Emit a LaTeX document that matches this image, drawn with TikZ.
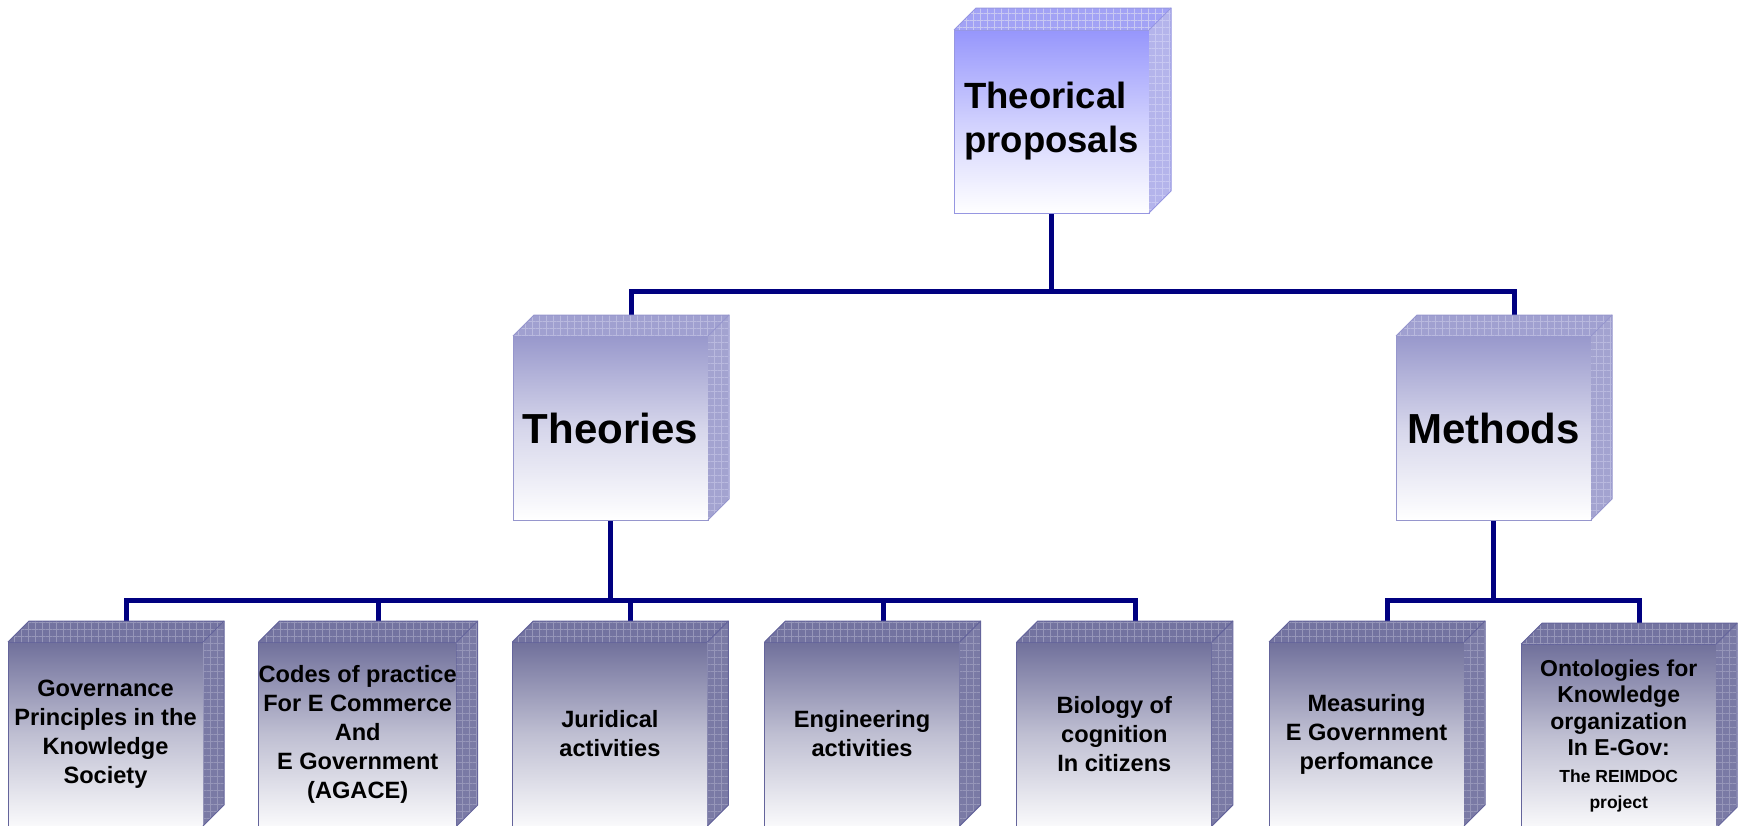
\documentclass[tikz,border=0pt]{standalone}
\usepackage{fontspec}
\usepackage{graphicx}
\setmainfont{Liberation Sans}
\usetikzlibrary{patterns.meta,calc}
\pgfdeclarelayer{bg}
\pgfsetlayers{bg,main}

\definecolor{navy}{RGB}{0,0,128}
% level A (root)
\definecolor{frontA}{RGB}{150,150,252}
\definecolor{topA}{RGB}{162,162,245}
\definecolor{sideA}{RGB}{180,180,235}
\definecolor{gridA}{RGB}{200,200,242}
\definecolor{borderA}{RGB}{150,150,225}
% level B
\definecolor{frontB}{RGB}{152,152,204}
\definecolor{topB}{RGB}{160,160,208}
\definecolor{sideB}{RGB}{163,163,208}
\definecolor{gridB}{RGB}{185,185,222}
\definecolor{borderB}{RGB}{150,150,205}
% level C
\definecolor{frontC}{RGB}{112,112,155}
\definecolor{topC}{RGB}{115,115,160}
\definecolor{sideC}{RGB}{122,122,165}
\definecolor{gridC}{RGB}{150,150,185}
\definecolor{borderC}{RGB}{100,100,155}

\newcommand\rootfont{\fontsize{36.5}{44}\selectfont\bfseries}
\newcommand\midfont{\fontsize{42}{48}\selectfont\bfseries}
\newcommand\leaffont{\fontsize{23.6}{29}\selectfont\bfseries}
\newcommand\ontofont{\fontsize{23}{26.5}\selectfont\bfseries}
\newcommand\tinyleaf{\fontsize{17.5}{26}\selectfont\bfseries}

\tikzset{
  conn/.style={draw=navy, line width=5pt},
  facebase/.style={inner sep=0pt, outer sep=0pt, minimum width=195pt, line width=1pt, text=black},
  frontAst/.style={facebase, minimum height=183pt, draw=borderA, top color=frontA, bottom color=white, middle color=frontA!45!white, font=\rootfont, align=left},
  frontBst/.style={facebase, minimum height=184pt, draw=borderB, top color=frontB, bottom color=white, middle color=frontB!40!white, font=\midfont, align=center},
  frontCst/.style={facebase, minimum height=184pt, draw=borderC, top color=frontC, bottom color=white!96!frontC, middle color=frontC!45!white, font=\leaffont, align=center},
  topfaceA/.style={fill=topA},
  topfaceB/.style={fill=topB},
  topfaceC/.style={fill=topC},
  sidefaceA/.style={fill=sideA},
  sidefaceB/.style={fill=sideB},
  sidefaceC/.style={fill=sideC},
  gridA/.style={pattern={Hatch[angle=0,distance=7pt,line width=0.6pt]}, pattern color=gridA},
  gridB/.style={pattern={Hatch[angle=0,distance=7pt,line width=0.6pt]}, pattern color=gridB},
  gridC/.style={pattern={Hatch[angle=0,distance=7pt,line width=0.6pt]}, pattern color=gridC},
}

% #1 node name, #2 depth, #3 level letter
\newcommand\cubefaces[3]{%
  \path[topface#3] (#1.north west) -- ++(#2,-#2) -- ($(#1.north east)+(#2,-#2)$) -- (#1.north east) -- cycle;
  \path[grid#3] (#1.north west) -- ++(#2,-#2) -- ($(#1.north east)+(#2,-#2)$) -- (#1.north east) -- cycle;
  \path[sideface#3] (#1.north east) -- ++(#2,-#2) -- ($(#1.south east)+(#2,-#2)$) -- (#1.south east) -- cycle;
  \path[grid#3] (#1.north east) -- ++(#2,-#2) -- ($(#1.south east)+(#2,-#2)$) -- (#1.south east) -- cycle;
  \draw[draw=border#3, line width=1pt] (#1.north west) -- ++(#2,-#2) -- ($(#1.north east)+(#2,-#2)$) -- ($(#1.south east)+(#2,-#2)$) -- (#1.south east);
  \draw[draw=border#3, line width=1pt] (#1.north east) -- ++(#2,-#2);
}

\begin{document}
\begin{tikzpicture}[x=1pt,y=-1pt]
\useasboundingbox (0,0) rectangle (1741,825);

% root
\node[frontAst] (root) at (1051.5,121.5) {Theorical\\proposals};
\cubefaces{root}{22}{A}

% second level
\node[frontBst] (theo) at (610.5,428) {Theories};
\cubefaces{theo}{21}{B}
\node[frontBst] (meth) at (1493.5,428) {Methods};
\cubefaces{meth}{21}{B}

% leaves
\node[frontCst] (gov) at (105.5,734) {Governance\\Principles in the\\Knowledge\\Society};
\cubefaces{gov}{21}{C}
\node[frontCst] (codes) at (357.7,734) {Codes of practice\\For E Commerce\\And\\E Government\\(AGACE)};
\cubefaces{codes}{21}{C}
\node[frontCst] (jur) at (609.9,734) {Juridical\\activities};
\cubefaces{jur}{21}{C}
\node[frontCst] (eng) at (862.1,734) {Engineering\\activities};
\cubefaces{eng}{21}{C}
\node[frontCst] (bio) at (1114.3,734) {Biology of\\cognition\\In citizens};
\cubefaces{bio}{21}{C}
\node[frontCst] (meas) at (1366.5,734) {Measuring\\E Government\\perfomance};
\cubefaces{meas}{21}{C}
\node[frontCst, font=\ontofont] (onto) at (1618.7,736) {Ontologies for\\Knowledge\\organization\\In E-Gov:\\{\tinyleaf The REIMDOC}\\{\tinyleaf project}};
\cubefaces{onto}{21}{C}

% connectors (to the middle of the back top edge, hidden behind the boxes)
\begin{pgfonlayer}{bg}
\draw[conn] (root.south) -- ++(0,78) -| ($(theo.north)+(21,-21)$);
\draw[conn] (root.south) -- ++(0,78) -| ($(meth.north)+(21,-21)$);
\foreach \leaf in {gov,codes,jur,eng,bio}{
  \draw[conn] (theo.south) -- ++(0,80) -| ($(\leaf.north)+(21,-21)$);
}
\foreach \leaf in {meas,onto}{
  \draw[conn] (meth.south) -- ++(0,80) -| ($(\leaf.north)+(21,-21)$);
}
\end{pgfonlayer}
\end{tikzpicture}
\end{document}
